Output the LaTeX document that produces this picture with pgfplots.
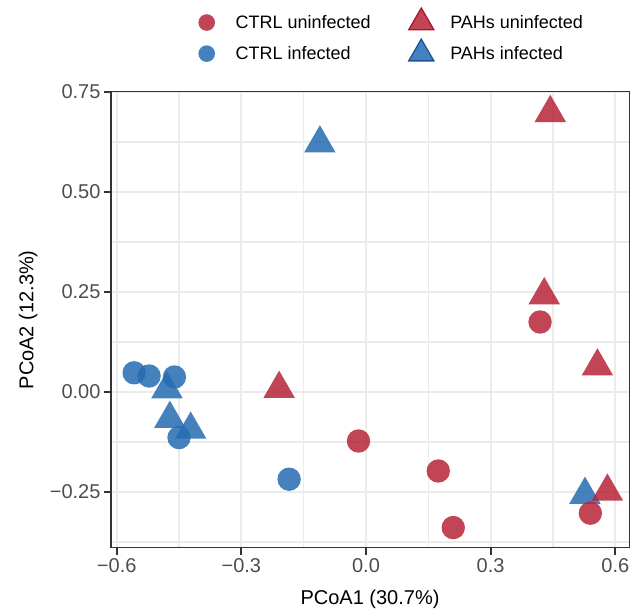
\documentclass[border=0pt]{standalone}
\usepackage{fontspec}
\setmainfont{Liberation Sans}
\usepackage{pgfplots}
\pgfplotsset{compat=1.18}

\definecolor{ptred}{RGB}{183,36,55}
\definecolor{ptblue}{RGB}{37,108,178}
\definecolor{edgered}{RGB}{170,20,45}
\definecolor{edgeblue}{RGB}{25,85,160}
\definecolor{gridgray}{RGB}{235,235,235}
\definecolor{axisgray}{RGB}{51,51,51}
\definecolor{labgray}{RGB}{77,77,77}

\begin{document}
\begin{tikzpicture}
\begin{axis}[
  name=ax,
  scale only axis, width=518pt, height=456.4pt,
  xmin=-0.6137, xmax=0.633, ymin=-0.39, ymax=0.751,
  xtick={-0.6,-0.3,0,0.3,0.6},
  xticklabels={−0.6,−0.3,0.0,0.3,0.6},
  ytick={-0.25,0,0.25,0.5,0.75},
  yticklabels={−0.25,0.00,0.25,0.50,0.75},
  minor xtick={-0.45,-0.15,0.15,0.45},
  minor ytick={-0.375,-0.125,0.125,0.375,0.625},
  grid=both,
  major grid style={gridgray, line width=2pt},
  minor grid style={gridgray, line width=1.6pt},
  tick pos=left, tick align=outside,
  major tick length=7pt, minor tick length=0pt,
  tick style={axisgray, line width=1.8pt},
  axis line style={axisgray, line width=1pt},
  ticklabel style={font=\fontsize{20}{24}\selectfont, text=labgray},
  xlabel={PCoA1 (30.7\%)}, ylabel={PCoA2 (12.3\%)},
  label style={font=\fontsize{20}{24}\selectfont},
  xlabel style={at={(rel axis cs:0.5,0)}, anchor=base, yshift=-56.3pt},
  ylabel style={at={([xshift=-77.7pt]rel axis cs:0,0.5)}, anchor=base},
  legend columns=2,
  legend cell align=left,
  legend image code/.code={%
    \path[draw=none, fill=none] (-50.5pt,-14pt) rectangle (29pt,14pt);
    \draw[#1] plot coordinates {(0pt,0pt)};},
  legend style={draw=none, fill=none, at={(0.0873,1.1831)}, anchor=north west,
    inner sep=0pt, outer sep=0pt, row sep=2.6pt,
    font=\fontsize{18}{21}\selectfont, nodes={inner sep=0pt, draw=none, fill=none}},
]

% legend keys (row-wise: CTRL uninf, PAHs uninf, CTRL inf, PAHs inf)
\addlegendimage{only marks, mark=*, mark size=8.3pt,
  mark options={draw opacity=0, fill=ptred, fill opacity=0.85}}
\addlegendentry{CTRL uninfected}
\addlegendimage{only marks, mark=triangle*, mark size=14.5pt,
  mark options={draw=edgered, line width=1.3pt, fill=ptred, fill opacity=0.85}}
\addlegendentry{PAHs uninfected}
\addlegendimage{only marks, mark=*, mark size=8.3pt,
  mark options={draw opacity=0, fill=ptblue, fill opacity=0.85}}
\addlegendentry{CTRL infected}
\addlegendimage{only marks, mark=triangle*, mark size=14.5pt,
  mark options={draw=edgeblue, line width=1.3pt, fill=ptblue, fill opacity=0.85}}
\addlegendentry{PAHs infected}

% PAHs infected
\addplot[forget plot, only marks, mark=triangle*, mark size=18.2pt,
  mark options={draw opacity=0, fill=ptblue, fill opacity=0.85}] coordinates {
  (0.527,-0.257) (-0.111,0.6215) (-0.479,0.007) (-0.472,-0.067) (-0.422,-0.094)
};
% CTRL infected
\addplot[forget plot, only marks, mark=*, mark size=11.7pt,
  mark options={draw opacity=0, fill=ptblue, fill opacity=0.85}] coordinates {
  (-0.558,0.048) (-0.522,0.040) (-0.461,0.0375) (-0.450,-0.114) (-0.185,-0.218)
};
% PAHs uninfected
\addplot[forget plot, only marks, mark=triangle*, mark size=18.2pt,
  mark options={draw opacity=0, fill=ptred, fill opacity=0.85}] coordinates {
  (0.4436,0.6975) (0.429,0.242) (0.557,0.064) (0.581,-0.249) (-0.209,0.008)
};
% CTRL uninfected
\addplot[forget plot, only marks, mark=*, mark size=11.7pt,
  mark options={draw opacity=0, fill=ptred, fill opacity=0.85}] coordinates {
  (0.419,0.175) (0.540,-0.303) (0.174,-0.1975) (0.210,-0.339) (-0.018,-0.1225)
};

\draw[axisgray, line width=1.8pt] (rel axis cs:0,1) -- (rel axis cs:0,0) -- (rel axis cs:1,0);
\end{axis}
\pgfresetboundingbox
\path ([xshift=-111pt,yshift=-63pt]ax.south west) rectangle ([xshift=3pt,yshift=91.6pt]ax.north east);
\end{tikzpicture}
\end{document}
